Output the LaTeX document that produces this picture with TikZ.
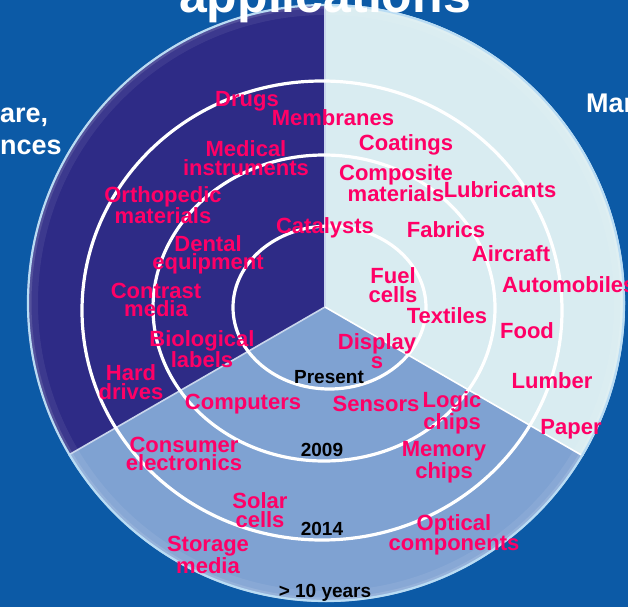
\documentclass[tikz,border=0pt]{standalone}
\usepackage{fontspec}
\setmainfont{Liberation Sans}
\definecolor{bgblue}{HTML}{0C5AA6}
\definecolor{darksec}{HTML}{2E2B86}
\definecolor{lightsec}{HTML}{D9ECF1}
\definecolor{botsec}{HTML}{7FA2D2}
\definecolor{pinklab}{HTML}{FF0066}
\definecolor{edgecol}{HTML}{B9DCF4}
\definecolor{seamcol}{HTML}{C9D6EC}
\tikzset{
  lab/.style={font=\fontsize{22}{18.5}\selectfont\bfseries, text=pinklab, align=center, inner sep=0pt},
  yr/.style={font=\fontsize{19}{19}\selectfont\bfseries, text=black, inner sep=0pt},
  side/.style={font=\fontsize{27}{27}\selectfont\bfseries, text=white, inner sep=0pt},
  ring/.style={draw=white, line width=3.2pt},
  seam/.style={draw=seamcol, line width=1.6pt}
}
\begin{document}
\begin{tikzpicture}[x=1pt,y=-1pt]
\useasboundingbox (0,0) rectangle (628,607);
\fill[bgblue] (0,0) rectangle (628,607);
\coordinate (O) at (326,303);
\coordinate (A) at (325,307);
\coordinate (T) at (325,-50);
\coordinate (L) at (-100,552.4);
\coordinate (R) at (750,552.4);
\begin{scope}
  \clip (O) circle [radius=299pt];
  \fill[darksec] (A) -- (T) -- (-100,-50) -- (L) -- cycle;
  \fill[lightsec] (A) -- (T) -- (750,-50) -- (R) -- cycle;
  \fill[botsec] (A) -- (L) -- (-100,700) -- (750,700) -- (R) -- cycle;
  \draw[white, opacity=0.07, line width=22pt] (O) circle [radius=299pt];
  \draw[white, opacity=0.12, line width=9pt] (O) circle [radius=299pt];
  \draw[seam] (A) -- (T);
  \draw[seam] (A) -- (L);
  \draw[seam, draw=white] (A) -- (R);
\end{scope}
\draw[edgecol, line width=2.2pt] (O) circle [radius=298pt];

\draw[ring] (329.5,307.5) ellipse [x radius=96.5pt, y radius=81.5pt];
\draw[ring] (324,308) ellipse [x radius=171pt, y radius=153pt];
\draw[ring] (322,310.5) ellipse [x radius=240pt, y radius=229.5pt];

% title and side labels
\node[font=\fontsize{50}{50}\selectfont\bfseries, text=white, inner sep=0pt, anchor=base] (title) at (325,13) {applications};
\node[side, anchor=base west] (hcA) at (0,122) {are,};
\node[side, anchor=base west] (hcB) at (0,154) {nces};
\node[side, anchor=base west] (mat) at (586,112) {Mar};

% dark sector
\node[lab] (drugs) at (247,101) {Drugs};
\node[lab] (membr) at (333,118) {Membranes};
\node[lab] (medic) at (246,158) {Medical\\instruments};
\node[lab] (ortho) at (163,205) {Orthopedic\\materials};
\node[lab] (dental) at (208,255) {Dental\\equipment};
\node[lab] (contr) at (156,300) {Contrast\\media};
\node[lab] (biol) at (202,349) {Biological\\labels};
\node[lab] (hard) at (131,382) {Hard\\drives};
\node[lab] (catal) at (325,228) {Catalysts};

% light sector
\node[lab] (coat) at (406,145) {Coatings};
\node[lab] (compo) at (396,183) {Composite\\materials};
\node[lab] (lubr) at (500,190) {Lubricants};
\node[lab] (fabr) at (446,230) {Fabrics};
\node[lab] (airc) at (511,254) {Aircraft};
\node[lab, anchor=west] (auto) at (502,285) {Automobiles};
\node[lab] (fuel) at (393,285) {Fuel\\cells};
\node[lab] (text) at (447,316) {Textiles};
\node[lab] (food) at (527,331) {Food};
\node[lab] (lumb) at (552,381) {Lumber};
\node[lab] (paper) at (571,429) {Paper};

% bottom sector
\node[lab] (displ) at (377,351) {Display\\s};
\node[yr] (present) at (329,377) {Present};
\node[lab] (compu) at (243,404) {Computers};
\node[lab] (sens) at (376,404) {Sensors};
\node[lab] (logic) at (452,413) {Logic\\chips};
\node[yr] (y2009) at (322,450) {2009};
\node[lab] (consu) at (184,454) {Consumer\\electronics};
\node[lab] (memo) at (444,462) {Memory\\chips};
\node[lab] (solar) at (260,510) {Solar\\cells};
\node[yr] (y2014) at (322,529) {2014};
\node[lab] (optic) at (454,535) {Optical\\components};
\node[lab] (stor) at (208,555) {Storage\\media};
\node[yr] (y10) at (325,593) {> 10 years};
\end{tikzpicture}
\end{document}
